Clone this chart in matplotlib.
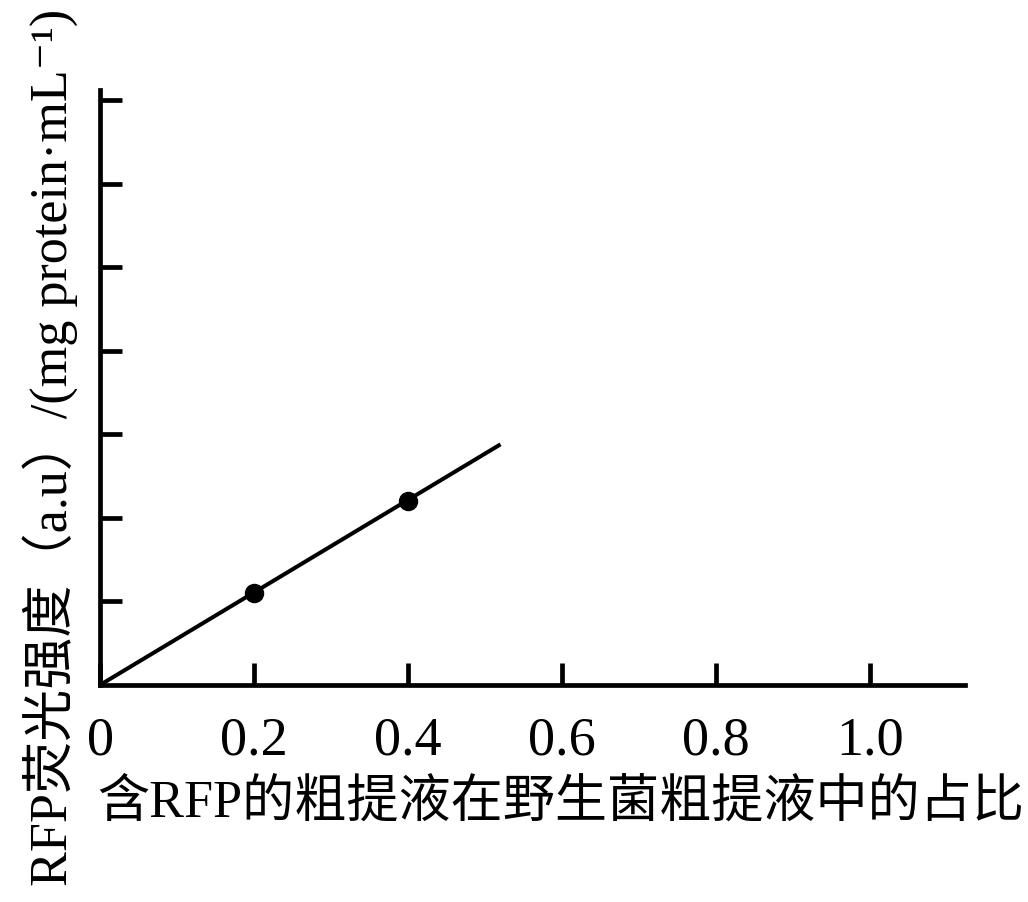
import matplotlib
matplotlib.use('Agg')
import matplotlib.pyplot as plt

# ========== Data ==========
point_x = [0.2, 0.4]
point_y = [1.1, 2.2]
line_x = [0.0, 0.52]
line_y = [0.0, 2.88]
xticks = [0, 0.2, 0.4, 0.6, 0.8, 1.0]
xtick_labels = ['0', '0.2', '0.4', '0.6', '0.8', '1.0']
yticks = [1, 2, 3, 4, 5, 6, 7]

xlabel = '含RFP的粗提液在野生菌粗提液中的占比'
ylabel = 'RFP荧光强度（a.u）/(mg protein·mL⁻¹)'

fonts = ['Liberation Serif', 'Noto Sans CJK SC', 'DejaVu Serif']
plt.rcParams['font.family'] = fonts

fig = plt.figure(figsize=(10.28, 9.02), dpi=100)
ax = fig.add_axes([0.0973, 0.2406, 0.8414, 0.6596])

# === fitted line + measured points ===
ax.plot(line_x, line_y, color='black', lw=2.9, solid_capstyle='butt')
ax.plot(point_x, point_y, 'o', color='black', markersize=13)

ax.set_xlim(0, 1.123)
ax.set_ylim(0, 7.12)
ax.set_xticks(xticks)
ax.set_xticklabels(xtick_labels)
ax.set_yticks(yticks)
ax.set_yticklabels([])

for s in ['top', 'right']:
    ax.spines[s].set_visible(False)
for s in ['left', 'bottom']:
    ax.spines[s].set_linewidth(3.4)
    ax.spines[s].set_capstyle('projecting')

ax.tick_params(axis='both', direction='in', width=3.4, colors='black')
ax.tick_params(axis='x', length=16, pad=22, labelsize=39)
ax.tick_params(axis='y', length=16)

ax.set_xlabel(xlabel, fontsize=37.5, va='center')
ax.xaxis.set_label_coords(0.532, -0.20)
ax.set_ylabel(ylabel, fontsize=37.5, va='center')
ax.yaxis.set_label_coords(-0.058, 0.40)

fig.savefig('out.png', dpi=100)
